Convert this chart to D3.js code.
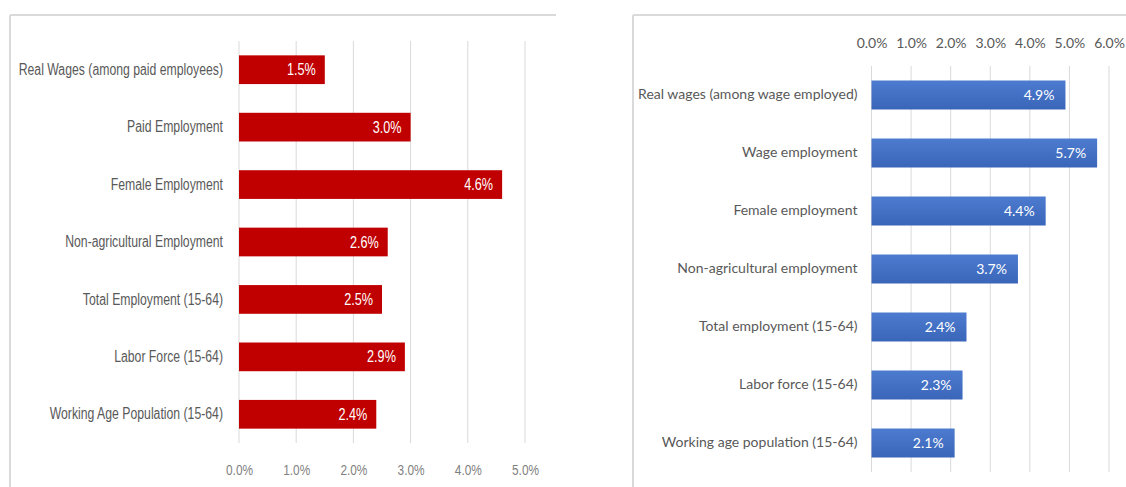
<!DOCTYPE html>
<html>
<head>
<meta charset="utf-8">
<script src="https://cdn.jsdelivr.net/npm/d3@7"></script>
<style>
  html, body { margin: 0; padding: 0; background: #ffffff; }
  svg { display: block; }
</style>
</head>
<body>
<svg id="chart" width="1126" height="487"></svg>
<script>
// ---- Data ----
const leftCategories = [
  "Real Wages (among paid employees)",
  "Paid Employment",
  "Female Employment",
  "Non-agricultural Employment",
  "Total Employment (15-64)",
  "Labor Force (15-64)",
  "Working Age Population (15-64)"
];
const leftValues = [1.5, 3.0, 4.6, 2.6, 2.5, 2.9, 2.4];
const leftTicks = [0, 1, 2, 3, 4, 5];

const rightCategories = [
  "Real wages (among wage employed)",
  "Wage employment",
  "Female employment",
  "Non-agricultural employment",
  "Total employment (15-64)",
  "Labor force (15-64)",
  "Working age population (15-64)"
];
const rightValues = [4.9, 5.7, 4.4, 3.7, 2.4, 2.3, 2.1];
const rightTicks = [0, 1, 2, 3, 4, 5, 6];

// ---- Drawing ----
const svg = d3.select("#chart");
const fmt = d => d3.format(".1f")(d) + "%";
const gridColor = "#d9d9d9";
const borderColor = "#dadada";

const defs = svg.append("defs");
const grad = defs.append("linearGradient").attr("id", "blueGrad")
  .attr("x1", 0).attr("y1", 0).attr("x2", 0).attr("y2", 1);
grad.append("stop").attr("offset", "0%").attr("stop-color", "#4d7bcf");
grad.append("stop").attr("offset", "100%").attr("stop-color", "#3a66b9");

// narrow-font look: compress each text horizontally
function narrow(sel, factor) {
  sel.each(function () {
    const w = this.getComputedTextLength();
    d3.select(this).attr("textLength", w * factor).attr("lengthAdjust", "spacingAndGlyphs");
  });
}

// Panel borders
function panelBorder(x0, x1) {
  svg.append("line").attr("x1", x0).attr("x2", x1).attr("y1", 15).attr("y2", 15)
    .attr("stroke", borderColor).attr("stroke-width", 2);
  svg.append("line").attr("x1", x0).attr("x2", x0).attr("y1", 15).attr("y2", 487)
    .attr("stroke", borderColor).attr("stroke-width", 2);
}
panelBorder(10, 556);
panelBorder(633, 1126);

// ---------- Left chart ----------
{
  const font = "'Liberation Sans', Arial, sans-serif";
  const x = d3.scaleLinear().domain([0, 5]).range([239, 525]);
  const y = d3.scaleBand().domain(leftCategories).range([41, 443])
    .paddingInner(0.5).paddingOuter(0.25);
  const g = svg.append("g");

  g.selectAll("line.grid").data(leftTicks).enter().append("line")
    .attr("class", "grid")
    .attr("x1", d => x(d)).attr("x2", d => x(d))
    .attr("y1", 41).attr("y2", 443)
    .attr("stroke", gridColor).attr("stroke-width", 1);

  g.selectAll("rect.bar").data(leftValues).enter().append("rect")
    .attr("class", "bar")
    .attr("x", x(0))
    .attr("y", (d, i) => y(leftCategories[i]))
    .attr("width", d => x(d) - x(0))
    .attr("height", y.bandwidth())
    .attr("fill", "#c00000");

  const vals = g.selectAll("text.val").data(leftValues).enter().append("text")
    .attr("class", "val")
    .attr("x", d => x(d) - 9)
    .attr("y", (d, i) => y(leftCategories[i]) + y.bandwidth() / 2)
    .attr("dy", "0.35em")
    .attr("text-anchor", "end")
    .attr("fill", "#ffffff")
    .style("font-family", font).style("font-size", "16px")
    .text(fmt);
  narrow(vals, 0.79);

  const yAxis = g.append("g").attr("transform", `translate(${x(0)},0)`)
    .call(d3.axisLeft(y).tickSize(0).tickPadding(16));
  yAxis.select(".domain").remove();
  yAxis.selectAll("text").attr("fill", "#595959")
    .style("font-family", font).style("font-size", "16px");
  narrow(yAxis.selectAll("text"), 0.765);

  const xAxis = g.append("g").attr("transform", "translate(0,443)")
    .call(d3.axisBottom(x).tickValues(leftTicks).tickFormat(fmt).tickSize(0).tickPadding(21));
  xAxis.select(".domain").remove();
  xAxis.selectAll("text").attr("fill", "#7f7f7f")
    .style("font-family", font).style("font-size", "15px");
  narrow(xAxis.selectAll("text"), 0.79);
}

// ---------- Right chart ----------
{
  const font = "Lato, 'Open Sans', sans-serif";
  const x = d3.scaleLinear().domain([0, 6]).range([871.5, 1109]);
  const y = d3.scaleBand().domain(rightCategories).range([66, 472])
    .paddingInner(0.5).paddingOuter(0.25);
  const g = svg.append("g");

  g.selectAll("line.grid").data(rightTicks).enter().append("line")
    .attr("class", "grid")
    .attr("x1", d => x(d)).attr("x2", d => x(d))
    .attr("y1", 66).attr("y2", 472)
    .attr("stroke", gridColor).attr("stroke-width", 1);

  g.selectAll("rect.bar").data(rightValues).enter().append("rect")
    .attr("class", "bar")
    .attr("x", x(0))
    .attr("y", (d, i) => y(rightCategories[i]))
    .attr("width", d => x(d) - x(0))
    .attr("height", y.bandwidth())
    .attr("fill", "url(#blueGrad)");

  g.selectAll("text.val").data(rightValues).enter().append("text")
    .attr("class", "val")
    .attr("x", d => x(d) - 11)
    .attr("y", (d, i) => y(rightCategories[i]) + y.bandwidth() / 2)
    .attr("dy", "0.35em")
    .attr("text-anchor", "end")
    .attr("fill", "#ffffff")
    .style("font-family", font).style("font-size", "14px")
    .text(fmt);

  const yAxis = g.append("g").attr("transform", `translate(${x(0)},0)`)
    .call(d3.axisLeft(y).tickSize(0).tickPadding(14));
  yAxis.select(".domain").remove();
  yAxis.selectAll("text").attr("fill", "#595959")
    .style("font-family", font).style("font-size", "14px");

  const xAxis = g.append("g").attr("transform", "translate(0,66)")
    .call(d3.axisTop(x).tickValues(rightTicks).tickFormat(fmt).tickSize(0).tickPadding(18));
  xAxis.select(".domain").remove();
  xAxis.selectAll("text").attr("fill", "#595959")
    .style("font-family", font).style("font-size", "14px");
}
</script>
</body>
</html>
